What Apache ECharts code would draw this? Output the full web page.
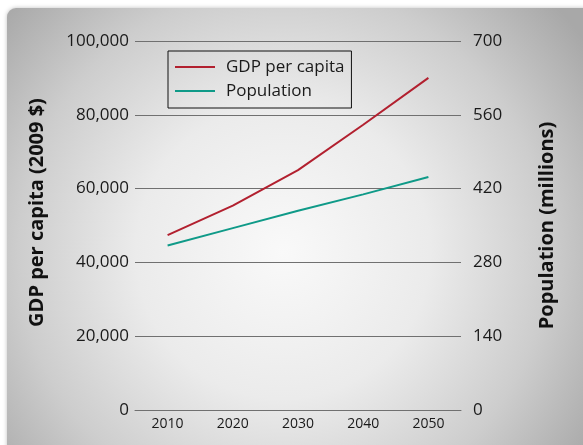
<!DOCTYPE html>
<html>
<head>
<meta charset="utf-8">
<title>GDP per capita and Population</title>
<script src="https://cdn.jsdelivr.net/npm/echarts@6/dist/echarts.min.js"></script>
<style>
  html, body { margin: 0; padding: 0; background: #ffffff; }
  #chart { width: 583px; height: 445px; }
</style>
</head>
<body>
<div id="chart"></div>
<script>
// Projection years on the category axis
const years = ['2010', '2020', '2030', '2040', '2050'];
// GDP per capita, 2009 dollars (left axis)
const gdpPerCapita = [47400, 55400, 65000, 77300, 90000];
// Population, millions (right axis)
const population = [312, 345, 378, 409, 442];
// Axis tick values
const gdpTicks = [0, 20000, 40000, 60000, 80000, 100000];
const popTicks = [0, 140, 280, 420, 560, 700];

const FONT = '"Open Sans", "Noto Sans", sans-serif';
const chart = echarts.init(document.getElementById('chart'), null, { renderer: 'canvas' });

const fmtThousands = v => String(v).replace(/\B(?=(\d{3})+(?!\d))/g, ',');

chart.setOption({
  animation: false,
  graphic: [{
    type: 'rect',
    z: -10,
    silent: true,
    shape: { x: 7, y: 8, width: 600, height: 460, r: 9 },
    style: {
      fill: {
        type: 'radial', x: 0.46, y: 0.53, r: 0.8,
        colorStops: [
          { offset: 0, color: '#f9f9f9' },
          { offset: 0.4, color: '#ebebeb' },
          { offset: 0.72, color: '#cdcdcd' },
          { offset: 1, color: '#a8a8a8' }
        ]
      },
      shadowBlur: 4,
      shadowColor: 'rgba(0,0,0,0.25)'
    }
  }],
  grid: { left: 135, right: 122, top: 41, bottom: 35, containLabel: false },
  legend: {
    left: 168, top: 51,
    orient: 'vertical',
    data: ['GDP per capita', 'Population'],
    icon: 'rect',
    itemWidth: 40, itemHeight: 2,
    itemGap: 4,
    padding: [6, 7, 7, 7],
    borderColor: '#111', borderWidth: 1,
    textStyle: { fontFamily: FONT, fontSize: 17, color: '#1a1a1a', lineHeight: 20, padding: [0, 0, 0, 6] }
  },
  xAxis: {
    type: 'category',
    data: years,
    boundaryGap: true,
    axisLine: { lineStyle: { color: '#707070', width: 1 } },
    axisTick: { alignWithLabel: true, length: 3, inside: false, lineStyle: { color: '#707070' } },
    axisLabel: { fontFamily: FONT, fontSize: 14, color: '#1a1a1a', margin: 7 }
  },
  yAxis: [{
    type: 'value',
    min: gdpTicks[0], max: gdpTicks[gdpTicks.length - 1], interval: gdpTicks[1] - gdpTicks[0],
    name: 'GDP per capita (2009 $)',
    nameLocation: 'middle', nameRotate: 90, nameGap: 88,
    nameTextStyle: { fontFamily: FONT, fontSize: 20, fontWeight: 'bold', color: '#111', padding: [0, 0, 0, 26] },
    axisLine: { show: false },
    axisTick: { show: false },
    splitLine: { show: true, lineStyle: { color: '#707070', width: 1 } },
    axisLabel: { fontFamily: FONT, fontSize: 17, color: '#1a1a1a', margin: 6, formatter: fmtThousands }
  }, {
    type: 'value',
    min: popTicks[0], max: popTicks[popTicks.length - 1], interval: popTicks[1] - popTicks[0],
    name: 'Population (millions)',
    nameLocation: 'middle', nameRotate: 90, nameGap: 76,
    nameTextStyle: { fontFamily: FONT, fontSize: 20, fontWeight: 'bold', color: '#111' },
    axisLine: { show: false },
    axisTick: { show: false },
    splitLine: { show: false },
    axisLabel: { fontFamily: FONT, fontSize: 17, color: '#1a1a1a', margin: 12 }
  }],
  series: [{
    name: 'GDP per capita',
    type: 'line',
    data: gdpPerCapita,
    yAxisIndex: 0,
    symbol: 'none',
    color: '#b2202f',
    lineStyle: { width: 2, color: '#b2202f' }
  }, {
    name: 'Population',
    type: 'line',
    data: population,
    yAxisIndex: 1,
    symbol: 'none',
    color: '#0f9a88',
    lineStyle: { width: 2, color: '#0f9a88' }
  }]
});
</script>
</body>
</html>
